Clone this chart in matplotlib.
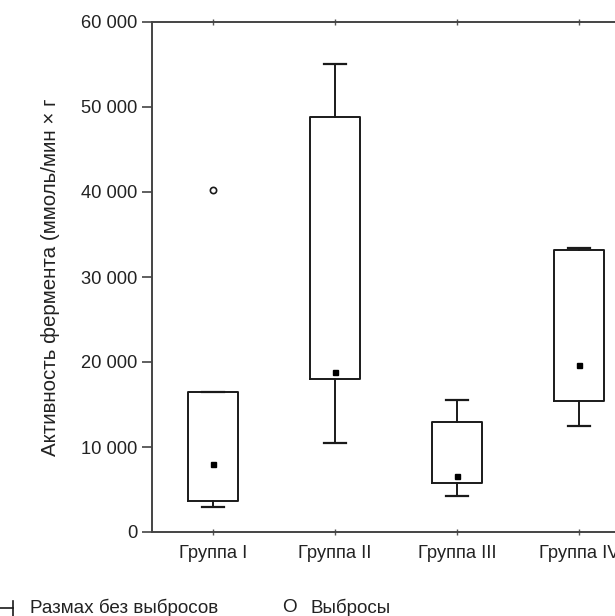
import matplotlib
matplotlib.use("Agg")
import matplotlib.pyplot as plt  # For plotting
from matplotlib.lines import Line2D
from matplotlib.ticker import FuncFormatter

plt.rcParams['font.family'] = ['Liberation Sans', 'DejaVu Sans']

# Data
groups = ["Группа I", "Группа II", "Группа III", "Группа IV"]
medians = [8000, 18800, 6600, 19600]
q1 = [3700, 18000, 5800, 15400]
q3 = [16500, 48800, 13000, 33200]
whisk_lo = [3000, 10500, 4200, 12500]
whisk_hi = [16500, 55000, 15500, 33400]
outliers = [[40200], [], [], []]
y_ticks = [0, 10000, 20000, 30000, 40000, 50000, 60000]

TEXT_COLOR = "#222222"
LINE_COLOR = "#1a1a1a"
FS = 13.2

fig = plt.figure(figsize=(6.15, 6.16), dpi=100)
# axes runs past the right edge on purpose (the source picture is cropped)
ax = fig.add_axes([152 / 615, 1 - 532 / 616, 488 / 615, 510 / 616])

stats = []
for i, name in enumerate(groups):  # build box stats from the arrays
    stats.append(dict(label=name, med=medians[i], q1=q1[i], q3=q3[i],
                      whislo=whisk_lo[i], whishi=whisk_hi[i], fliers=outliers[i]))

pos = list(range(1, len(groups) + 1))
ax.bxp(stats, positions=pos, widths=0.41, capwidths=0.18,
       boxprops=dict(color=LINE_COLOR, linewidth=1.4),
       whiskerprops=dict(color=LINE_COLOR, linewidth=1.4),
       capprops=dict(color=LINE_COLOR, linewidth=1.6),
       medianprops=dict(linestyle='none'),
       flierprops=dict(marker='o', markersize=4.5, markerfacecolor='white',
                       markeredgecolor=LINE_COLOR, markeredgewidth=1.2))
ax.plot(pos, medians, 's', color='black', markersize=3.6, zorder=5)  # median markers

ax.set_xlim(0.5, 4.5)
ax.set_ylim(0, 60000)
ax.set_yticks(y_ticks)
ax.yaxis.set_major_formatter(FuncFormatter(lambda v, p: f"{int(v):,}".replace(",", " ")))
ax.set_xticks(pos)
ax.set_xticklabels(groups)
ax.tick_params(axis='y', direction='out', length=7, width=1.2, colors="#444444",
               labelcolor=TEXT_COLOR, labelsize=FS, pad=3.5)
ax.tick_params(axis='x', direction='inout', length=5, width=1.0, colors="#555555",
               labelcolor=TEXT_COLOR, labelsize=FS, pad=7, top=True)
for s in ax.spines.values():
    s.set_color("#444444")
    s.set_linewidth(1.4)

ax.set_ylabel("Активность фермента (ммоль/мин × г", fontsize=14.8, color=TEXT_COLOR)
ax.yaxis.set_label_coords((60 - 152) / 488, 0.5)

# legend row under the chart
fig.add_artist(Line2D([0 / 615, 13 / 615], [1 - 608 / 616, 1 - 608 / 616],
                      color=LINE_COLOR, linewidth=1.2))
fig.add_artist(Line2D([13 / 615, 13 / 615], [1 - 601 / 616, 1 - 616 / 616],
                      color=LINE_COLOR, linewidth=1.2))
fig.text(30 / 615, 1 - 608 / 616, "Размах без выбросов", fontsize=13.6,
         color=TEXT_COLOR, va='center', ha='left')
fig.text(282 / 615, 1 - 608 / 616, "O", fontsize=13.6, color=TEXT_COLOR,
         va='center', ha='left')
fig.text(310 / 615, 1 - 608 / 616, "Выбросы", fontsize=13.6, color=TEXT_COLOR,
         va='center', ha='left')

fig.savefig("out.png", dpi=100)
